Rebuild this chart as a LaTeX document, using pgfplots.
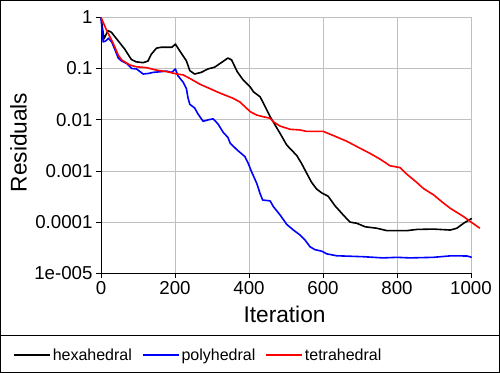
\documentclass[border=0pt]{standalone}
\usepackage{fontspec}
\setmainfont{Liberation Sans}
\usepackage{pgfplots}
\pgfplotsset{compat=1.18}
\definecolor{gridgray}{RGB}{192,192,192}
\begin{document}
\begin{tikzpicture}
\begin{semilogyaxis}[
  at={(101bp,99.7bp)}, anchor=south west,
  scale only axis, width=370bp, height=256bp,
  xmin=0, xmax=1000, ymin=1e-5, ymax=1,
  clip=false,
  axis x line*=bottom, axis y line*=left,
  axis line style={black, line width=0.8bp, -},
  tick align=outside, major tick length=5bp,
  tick style={black, line width=0.8bp},
  xtick={0,200,400,600,800,1000}, xticklabels={0,200,400,600,800,1000},
  ytick={1e-5,1e-4,1e-3,1e-2,1e-1,1}, yticklabels={1e-005,0.0001,0.001,0.01,0.1,1},
  yminorticks=false,
  grid=major, major grid style={gridgray, line width=0.8bp},
  ticklabel style={font=\fontsize{18.7bp}{20bp}\selectfont},
  xlabel={Iteration}, ylabel={Residuals},
  label style={font=\fontsize{22.7bp}{24bp}\selectfont},
  xlabel style={at={(axis description cs:0.496,-0.159)}, anchor=center},
  ylabel style={at={(axis description cs:-0.223,0.511)}, anchor=center},
  legend columns=3,
  legend style={draw=none, fill=none, at={(axis description cs:-0.246,-0.319)}, anchor=west,
    font=\fontsize{16bp}{18bp}\selectfont,
    /tikz/every even column/.append style={column sep=8bp}},
  legend image code/.code={\draw[#1] (0bp,0bp) -- (36bp,0bp);},
  every axis plot/.append style={line width=1.6bp, line join=round},
]
\addplot[black] coordinates {
(0,1) (8,0.38) (19,0.55) (28,0.51) (46,0.35) (64,0.24) (82,0.15) (95,0.135) (114,0.13) (127,0.14)
(136,0.19) (150,0.25) (163,0.26) (181,0.26) (192,0.26) (201,0.30) (213,0.22) (231,0.14) (240,0.091)
(253,0.078) (271,0.084) (289,0.098) (307,0.106) (325,0.13) (343,0.16) (353,0.147) (368,0.087)
(384,0.06) (403,0.044) (412,0.035) (430,0.028) (439,0.021) (457,0.0115) (484,0.0054) (502,0.0032)
(529,0.0020) (542,0.0014) (556,0.0009) (569,0.0006) (583,0.00044) (597,0.00037) (614,0.00032)
(632,0.00021) (655,0.000137) (673,0.0001) (691,0.000095) (714,0.000081) (745,0.000076)
(773,0.000068) (826,0.000068) (854,0.000072) (899,0.000073) (944,0.00007) (962,0.000076)
(980,0.000095) (1002,0.000118)
};
\addlegendentry{hexahedral}
\addplot[blue] coordinates {
(0,1) (4,0.45) (6,0.33) (14,0.35) (20,0.39) (29,0.33) (38,0.23) (47,0.158) (56,0.14) (69,0.126)
(83,0.1) (96,0.098) (114,0.078) (128,0.08) (141,0.084) (164,0.087) (177,0.089) (191,0.084)
(201,0.098) (208,0.072) (222,0.054) (231,0.04) (235,0.027) (240,0.020) (253,0.017) (262,0.013)
(276,0.0093) (289,0.0099) (303,0.0104) (316,0.0083) (330,0.0057) (343,0.0045) (349,0.0035)
(367,0.0026) (389,0.0019) (398,0.0014) (407,0.00096) (421,0.00057) (430,0.00036) (437,0.00027)
(457,0.00026) (466,0.0002) (484,0.000138) (502,0.00009) (520,0.00007) (538,0.000056)
(551,0.000045) (565,0.000033) (578,0.000029) (597,0.000027) (610,0.000024) (637,0.000022)
(708,0.0000211) (762,0.00002) (800,0.0000205) (835,0.00002) (898,0.0000205) (944,0.0000219)
(989,0.0000218) (1002,0.0000205)
};
\addlegendentry{polyhedral}
\addplot[red] coordinates {
(0,1) (15,0.56) (33,0.31) (47,0.18) (56,0.147) (78,0.117) (96,0.108) (123,0.104) (150,0.093)
(177,0.087) (205,0.078) (222,0.075) (240,0.064) (268,0.049) (286,0.043) (322,0.033) (358,0.026)
(376,0.022) (403,0.0144) (421,0.0123) (439,0.0114) (457,0.0107) (466,0.0091) (484,0.0075)
(511,0.0065) (538,0.0063) (556,0.0059) (601,0.0059) (628,0.0049) (664,0.0038) (691,0.0030)
(727,0.0022) (754,0.0017) (781,0.00126) (808,0.00116) (826,0.00087) (854,0.00059) (872,0.00045)
(899,0.00034) (921,0.00025) (944,0.000186) (980,0.000128) (1002,0.000098) (1024,0.000076)
};
\addlegendentry{tetrahedral}
\end{semilogyaxis}
\draw[black, line width=1bp] (0,37.3bp) -- (500bp,37.3bp);
\draw[black, line width=1bp] (0.5bp,0.5bp) rectangle (499.5bp,372.5bp);
\pgfresetboundingbox
\useasboundingbox (0,0) rectangle (500bp,373bp);
\end{tikzpicture}
\end{document}
